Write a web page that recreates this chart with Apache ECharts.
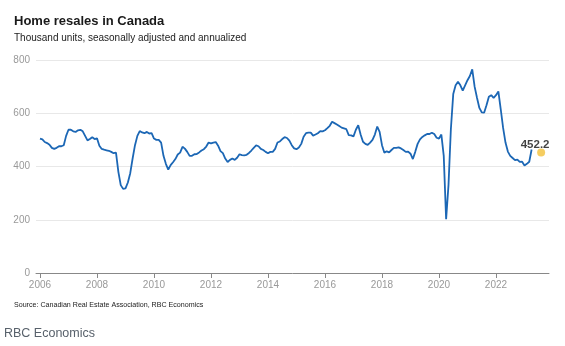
<!DOCTYPE html>
<html>
<head>
<meta charset="utf-8">
<script src="https://cdn.jsdelivr.net/npm/echarts@6/dist/echarts.min.js"></script>
<style>
html,body{margin:0;padding:0;background:#fff;}
#chart{width:565px;height:346px;}
</style>
</head>
<body>
<div id="chart"></div>
<script>
// Monthly resales, thousand units SAAR, Jan 2006 - Apr 2023
const startYear = 2006;
const v2006 = [505, 502, 492, 488, 482, 470, 466, 470, 476, 476, 480, 515];
const v2007 = [538, 538, 532, 530, 536, 538, 532, 515, 498, 503, 510, 503];
const v2008 = [506, 478, 466, 463, 461, 459, 455, 450, 452, 380, 330, 316];
const v2009 = [318, 340, 375, 430, 480, 515, 533, 528, 525, 530, 524, 525];
const v2010 = [505, 500, 500, 490, 440, 410, 388, 405, 416, 428, 445, 452];
const v2011 = [474, 467, 455, 440, 440, 446, 447, 453, 460, 465, 475, 490];
const v2012 = [487, 490, 492, 478, 458, 450, 430, 417, 425, 430, 425, 433];
const v2013 = [446, 443, 442, 444, 451, 460, 470, 479, 476, 466, 462, 455];
const v2014 = [450, 455, 455, 466, 490, 494, 503, 510, 507, 497, 480, 468];
const v2015 = [465, 471, 485, 512, 525, 527, 527, 516, 520, 525, 533, 532];
const v2016 = [536, 544, 553, 568, 563, 558, 552, 546, 543, 540, 518, 517];
const v2017 = [513, 538, 555, 520, 493, 485, 481, 490, 500, 520, 550, 530];
const v2018 = [480, 452, 457, 453, 462, 470, 470, 472, 468, 462, 455, 456];
const v2019 = [448, 428, 455, 485, 502, 511, 517, 522, 522, 527, 522, 508];
const v2020 = [505, 520, 440, 202, 330, 540, 672, 705, 718, 705, 685, 705];
const v2021 = [724, 740, 765, 700, 658, 620, 603, 602, 630, 662, 668, 658];
const v2022 = [668, 682, 615, 545, 490, 456, 440, 432, 424, 426, 417, 418];
const v2023 = [404, 410, 418, 464];
const latestDate = '2023-08';
const latestValue = 452.2;
const yTicks = [0, 200, 400, 600, 800];
const xTickYears = [2006, 2008, 2010, 2012, 2014, 2016, 2018, 2020, 2022];

const allYears = [v2006, v2007, v2008, v2009, v2010, v2011, v2012, v2013, v2014, v2015, v2016, v2017, v2018, v2019, v2020, v2021, v2022, v2023];
const lineData = [];
allYears.forEach((arr, yi) => {
  arr.forEach((val, mi) => {
    lineData.push([startYear + yi + mi / 12, val]);
  });
});
const [ly, lm] = latestDate.split('-').map(Number);
const latestPoint = [[ly + (lm - 1) / 12, latestValue]];

const FONT = '"Liberation Sans", Arial, sans-serif';
const chart = echarts.init(document.getElementById('chart'), null, {renderer: 'canvas'});
chart.setOption({
  animation: false,
  backgroundColor: '#fff',
  title: [
    {text: 'Home resales in Canada', left: 14, top: 15, padding: 0,
     textStyle: {fontFamily: FONT, fontSize: 13, fontWeight: 'bold', color: '#1a1a1a'}},
    {text: 'Thousand units, seasonally adjusted and annualized', left: 14, top: 33, padding: 0,
     textStyle: {fontFamily: FONT, fontSize: 10, fontWeight: 'normal', color: '#222'}},
    {text: 'Source: Canadian Real Estate Association, RBC Economics', left: 14, top: 302, padding: 0,
     textStyle: {fontFamily: FONT, fontSize: 7.1, fontWeight: 'normal', color: '#222'}},
    {text: 'RBC Economics', left: 4, top: 327, padding: 0,
     textStyle: {fontFamily: FONT, fontSize: 12.5, fontWeight: 'normal', color: '#58616b'}}
  ],
  grid: {left: 36, right: 16, top: 60, bottom: 73, containLabel: false},
  xAxis: {
    type: 'value',
    min: 2005.86,
    max: 2023.86,
    splitLine: {show: false},
    axisLine: {show: true, lineStyle: {color: '#888', width: 1}},
    axisTick: {show: true, length: 5, lineStyle: {color: '#888'}, customValues: xTickYears},
    axisLabel: {customValues: xTickYears, color: '#999', fontFamily: FONT, fontSize: 10, margin: 7,
      formatter: v => String(Math.round(v))}
  },
  yAxis: {
    type: 'value',
    min: 0,
    max: 800,
    interval: 200,
    axisLine: {show: false},
    axisTick: {show: false},
    splitLine: {show: true, lineStyle: {color: '#e8e8e8', width: 1}},
    axisLabel: {color: '#999', fontFamily: FONT, fontSize: 10, margin: 6,
      customValues: yTicks}
  },
  series: [
    {
      type: 'line',
      data: lineData,
      showSymbol: false,
      lineStyle: {color: '#1c67b5', width: 1.8},
      itemStyle: {color: '#1c67b5'},
      z: 3
    },
    {
      type: 'scatter',
      data: latestPoint,
      symbolSize: 8,
      itemStyle: {color: '#f2c03a'},
      label: {show: true, position: 'top', distance: -2, offset: [-6, 0],
        formatter: p => p.value[1].toFixed(1),
        fontFamily: FONT, fontSize: 11.5, fontWeight: 'bold', color: '#111'},
      z: 4
    }
  ]
});
</script>
</body>
</html>
